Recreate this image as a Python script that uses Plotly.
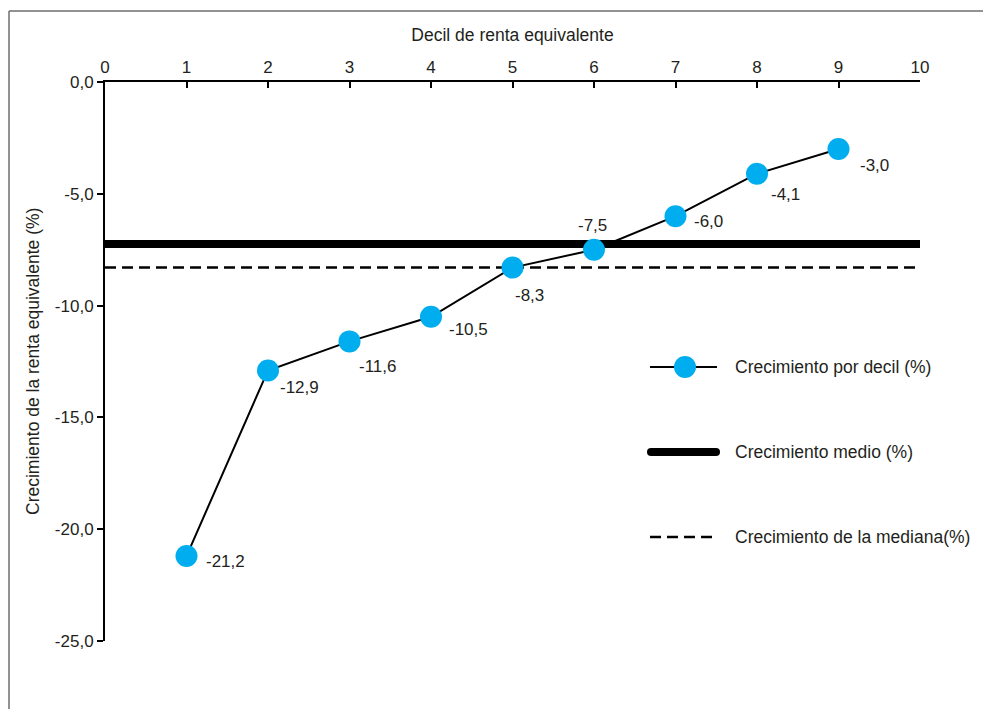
import plotly.graph_objects as go

# ---- data ----
deciles = [1, 2, 3, 4, 5, 6, 7, 8, 9]
growth_by_decile = [-21.2, -12.9, -11.6, -10.5, -8.3, -7.5, -6.0, -4.1, -3.0]
mean_growth = -7.25
median_growth = -8.3
x_ticks = [0, 1, 2, 3, 4, 5, 6, 7, 8, 9, 10]
y_ticks = [0, -5, -10, -15, -20, -25]
y_tick_labels = ["0,0", "-5,0", "-10,0", "-15,0", "-20,0", "-25,0"]
legend_names = ["Crecimiento por decil (%)", "Crecimiento medio (%)", "Crecimiento de la mediana(%)"]

# ---- layout geometry (pixels) ----
W, H = 983, 709
L, R, T, B = 105, 920, 82, 641
TXT = "#231F20"
FONT = "Liberation Sans, Arial, sans-serif"
BLUE = "#00AEEF"


def px(xp):
    return (xp - L) / (R - L)


def py(yp):
    return (B - yp) / (B - T)


fig = go.Figure()

fig.add_trace(go.Scatter(
    x=[0, 10], y=[mean_growth, mean_growth], mode="lines",
    line=dict(color="#000000", width=8), name=legend_names[1],
    showlegend=False, hoverinfo="skip"))
fig.add_trace(go.Scatter(
    x=[0, 10], y=[median_growth, median_growth], mode="lines",
    line=dict(color="#000000", width=2.5, dash="11px,6px"), name=legend_names[2],
    showlegend=False, hoverinfo="skip"))
fig.add_trace(go.Scatter(
    x=deciles, y=growth_by_decile, mode="lines+markers",
    line=dict(color="#000000", width=2),
    marker=dict(color=BLUE, size=22, line=dict(width=0)),
    name=legend_names[0], showlegend=False, cliponaxis=False))

# data labels (pixel offsets per point)
offsets = [(39, -5), (31, -17), (28, -25), (37, -13), (17, -28),
           (-2, 24), (33, -5), (28, -21), (36, -16)]
annotations = []
for xv, yv, (dx, dy) in zip(deciles, growth_by_decile, offsets):
    annotations.append(dict(
        x=xv, y=yv, xref="x", yref="y", text=f"{yv:.1f}".replace(".", ","),
        showarrow=False, xshift=dx, yshift=dy,
        font=dict(size=17, color=TXT, family=FONT)))

# y-axis title
annotations.append(dict(
    x=px(33), y=py(362), xref="paper", yref="paper",
    xanchor="center", yanchor="middle",
    text="Crecimiento de la renta equivalente (%)", textangle=-90,
    showarrow=False, font=dict(size=17.5, color=TXT, family=FONT)))

# manual legend
legend_rows = [367, 452, 537]
for name, yr in zip(legend_names, legend_rows):
    annotations.append(dict(
        x=px(733), y=py(yr), xref="paper", yref="paper", text=name,
        xanchor="left", yanchor="middle", showarrow=False,
        font=dict(size=17.5, color=TXT, family=FONT)))

shapes = [
    # outer frame (open to the right and bottom, as cropped in the original)
    dict(type="line", xref="paper", yref="paper",
         x0=px(9), x1=px(1200), y0=py(11), y1=py(11),
         line=dict(color="#6D6E71", width=1.5), layer="below"),
    dict(type="line", xref="paper", yref="paper",
         x0=px(9), x1=px(9), y0=py(11), y1=py(900),
         line=dict(color="#6D6E71", width=1.5), layer="below"),
    # legend samples
    dict(type="line", xref="paper", yref="paper",
         x0=px(650), x1=px(717), y0=py(legend_rows[0]), y1=py(legend_rows[0]),
         line=dict(color="#000000", width=2)),
    dict(type="circle", xref="paper", yref="paper",
         xsizemode="pixel", ysizemode="pixel",
         xanchor=px(685), yanchor=py(legend_rows[0]),
         x0=-11, x1=11, y0=-11, y1=11,
         fillcolor=BLUE, line=dict(width=0)),
    dict(type="line", xref="paper", yref="paper",
         x0=px(651), x1=px(716), y0=py(legend_rows[1]), y1=py(legend_rows[1]),
         line=dict(color="#000000", width=8)),
    dict(type="circle", xref="paper", yref="paper",
         xsizemode="pixel", ysizemode="pixel",
         xanchor=px(651), yanchor=py(legend_rows[1]),
         x0=-4, x1=4, y0=-4, y1=4, fillcolor="#000000", line=dict(width=0)),
    dict(type="circle", xref="paper", yref="paper",
         xsizemode="pixel", ysizemode="pixel",
         xanchor=px(716), yanchor=py(legend_rows[1]),
         x0=-4, x1=4, y0=-4, y1=4, fillcolor="#000000", line=dict(width=0)),
    dict(type="line", xref="paper", yref="paper",
         x0=px(650), x1=px(713), y0=py(legend_rows[2]), y1=py(legend_rows[2]),
         line=dict(color="#000000", width=2.5, dash="11px,6px")),
]

fig.update_layout(
    width=W, height=H,
    margin=dict(l=L, r=W - R, t=T, b=H - B, pad=0),
    paper_bgcolor="white", plot_bgcolor="white",
    showlegend=False, hovermode=False,
    separators=",.",
    font=dict(family=FONT, color=TXT, size=17),
    annotations=annotations, shapes=shapes,
    xaxis=dict(
        range=[0, 10], side="top", tickvals=x_ticks, ticktext=[str(v) for v in x_ticks],
        showline=True, linecolor="#000000", linewidth=2,
        ticks="inside", ticklen=6, tickwidth=2, tickcolor="#000000",
        showgrid=False, zeroline=False,
        tickfont=dict(size=17, color=TXT, family=FONT),
        title=dict(text="Decil de renta equivalente", standoff=12,
                   font=dict(size=17.5, color=TXT, family=FONT)),
    ),
    yaxis=dict(
        range=[-25, 0], tickvals=y_ticks, ticktext=y_tick_labels,
        showline=True, linecolor="#000000", linewidth=2,
        ticks="outside", ticklen=6, tickwidth=2, tickcolor="#000000",
        showgrid=False, zeroline=False,
        tickfont=dict(size=17, color=TXT, family=FONT),
    ),
)

fig.write_html(
    "out.html",
    config={"displayModeBar": False},
    post_script="document.body.style.margin='0';document.body.style.overflow='hidden';",
)
